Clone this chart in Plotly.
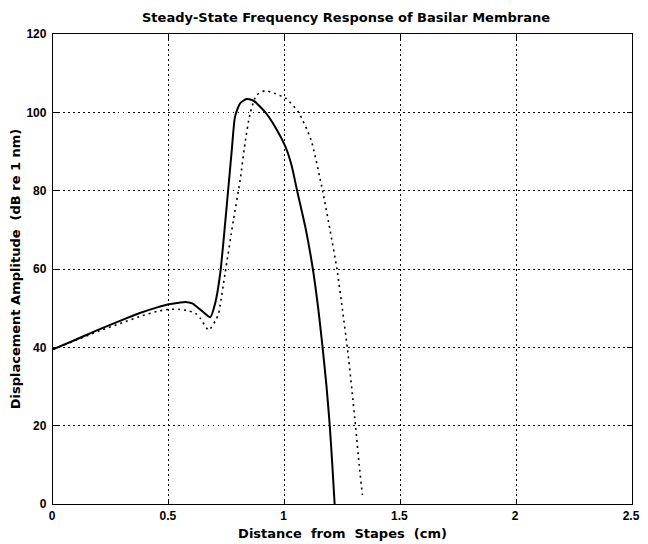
import plotly.graph_objects as go

# Solid curve
solid_x = [0.0, 0.1, 0.2, 0.3, 0.372, 0.45, 0.5, 0.544, 0.572, 0.601, 0.643, 0.679,
           0.70, 0.722, 0.755, 0.772, 0.786, 0.808, 0.836, 0.865, 0.917, 0.958,
           1.003, 1.030, 1.054, 1.092, 1.122, 1.145, 1.164, 1.181, 1.195, 1.206, 1.216]
solid_y = [39.5, 42.0, 44.6, 47.0, 48.7, 50.2, 51.0, 51.4, 51.6, 51.2, 49.3, 47.7,
           51.2, 58.9, 79.3, 90.4, 98.9, 102.3, 103.4, 103.0, 100.0, 96.4,
           91.3, 86.5, 80.0, 70.0, 60.0, 50.0, 40.0, 30.0, 20.0, 10.0, 0.0]

# Dotted curve
dotted_x = [0.0, 0.1, 0.2, 0.3, 0.372, 0.45, 0.5, 0.544, 0.586, 0.615, 0.636, 0.672,
            0.703, 0.715, 0.743, 0.779, 0.808, 0.829, 0.851, 0.879, 0.915, 0.958,
            1.007, 1.060, 1.114, 1.164, 1.196, 1.226, 1.25, 1.271, 1.29, 1.307,
            1.322, 1.336]
dotted_y = [39.5, 41.8, 44.2, 46.3, 47.8, 49.2, 49.7, 49.7, 49.3, 48.7, 47.4, 44.4,
            47.0, 48.7, 58.9, 72.5, 82.7, 92.1, 99.7, 104.4, 105.5, 104.8,
            103.5, 100.0, 93.0, 80.0, 70.0, 60.0, 49.5, 39.8, 29.5, 19.5,
            10.0, 2.3]

x_ticks = [0, 0.5, 1, 1.5, 2, 2.5]
x_tick_labels = ["0", "0.5", "1", "1.5", "2", "2.5"]
y_ticks = [0, 20, 40, 60, 80, 100, 120]
y_tick_labels = ["0", "20", "40", "60", "80", "100", "120"]

fig = go.Figure()
fig.add_trace(go.Scatter(x=dotted_x, y=dotted_y, mode="lines",
                         line=dict(color="black", width=1.6, dash="2px,4px",
                                   shape="spline", smoothing=0.6),
                         showlegend=False))
fig.add_trace(go.Scatter(x=solid_x, y=solid_y, mode="lines",
                         line=dict(color="black", width=2, shape="spline", smoothing=0.6),
                         showlegend=False))

tick_font = dict(family="Liberation Sans, Arial, sans-serif", size=12, color="black", weight="bold")
title_font = dict(family="DejaVu Sans, sans-serif", size=13, color="black", weight="bold")

axis_common = dict(
    showline=True, linecolor="black", linewidth=1.3, mirror="allticks",
    ticks="inside", ticklen=5, tickcolor="black",
    showgrid=True, gridcolor="black", gridwidth=1, griddash="1.5px,3.5px",
    zeroline=False, tickfont=tick_font, automargin=False,
)

# page has an 8px body margin, so layout coordinates are shifted by 8px
OFF = 8
W, H = 648 - OFF, 544 - OFF
L, R, T, B = 53 - OFF, 632 - OFF, 34 - OFF, 504 - OFF
fig.update_layout(
    width=W, height=H,
    margin=dict(l=L, r=W - R, t=T, b=H - B),
    paper_bgcolor="white", plot_bgcolor="white",
    title=dict(text="Steady-State Frequency Response of Basilar Membrane",
               x=(346 - OFF) / W, xanchor="center", y=1 - (17 - OFF) / H, yanchor="middle",
               font=title_font),
    xaxis=dict(range=[0, 2.5], tickvals=x_ticks, ticktext=x_tick_labels,
               ticklabelshift=-1, ticklabeloverflow="allow",
               title=dict(text="Distance\u00a0 from\u00a0 Stapes\u00a0 (cm)", font=title_font, standoff=7),
               **axis_common),
    yaxis=dict(range=[0, 120], tickvals=y_ticks, ticktext=y_tick_labels,
               ticklabelstandoff=3,
               title=dict(text="Displacement Amplitude\u00a0 (dB re 1 nm)", font=title_font, standoff=7),
               **axis_common),
)

fig.write_html("out.html")
